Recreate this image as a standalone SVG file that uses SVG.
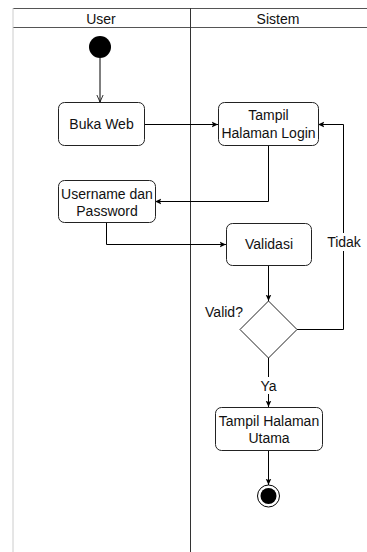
<svg xmlns="http://www.w3.org/2000/svg" width="367" height="552" viewBox="0 0 367 552">
<defs>
<style>
text{font-family:"Liberation Sans",Arial,sans-serif;font-size:14px;fill:#111;text-anchor:middle}
.act{fill:#fff;stroke:#222;stroke-width:1}
.ln{fill:none;stroke:#000;stroke-width:1}
</style>
<marker id="ah" viewBox="0 0 10 10" refX="9" refY="5" markerWidth="7" markerHeight="7" orient="auto" markerUnits="userSpaceOnUse">
<path d="M0,1 L9,5 L0,9 L2,5 Z" fill="#000"/>
</marker>
<marker id="oa" viewBox="0 0 10 10" refX="9" refY="5" markerWidth="8" markerHeight="8" orient="auto" markerUnits="userSpaceOnUse">
<path d="M0,1 L9,5 L0,9" fill="none" stroke="#000"/>
</marker>
</defs>
<rect width="367" height="552" fill="#fff"/>
<g id="swimlanes">
<line x1="13" y1="8.5" x2="367" y2="8.5" stroke="#555"/>
<line x1="13" y1="27.5" x2="367" y2="27.5" stroke="#555"/>
<line x1="13" y1="8" x2="13" y2="552" stroke="#ccc"/>
<line x1="190.5" y1="8" x2="190.5" y2="552" stroke="#333"/>
<text x="101" y="24">User</text>
<text x="278" y="24">Sistem</text>
</g>
<g id="connectors">
<line class="ln" x1="100" y1="58" x2="100" y2="102" marker-end="url(#oa)"/>
<line class="ln" x1="144" y1="124.5" x2="218" y2="124.5" marker-end="url(#ah)"/>
<polyline class="ln" points="268.5,145 268.5,201.5 155,201.5" stroke="#999" marker-end="url(#ah)"/>
<polyline class="ln" points="106.5,222 106.5,244.5 226,244.5" marker-end="url(#ah)"/>
<line class="ln" x1="268.5" y1="265" x2="268.5" y2="301" marker-end="url(#ah)"/>
<polyline class="ln" points="297,329.5 343.5,329.5 343.5,124.5 318,124.5" marker-end="url(#ah)"/>
<line class="ln" x1="268.5" y1="358" x2="268.5" y2="407" marker-end="url(#ah)"/>
<line class="ln" x1="268.5" y1="450" x2="268.5" y2="485" marker-end="url(#ah)"/>
<rect x="326" y="233" width="37" height="18" fill="#fff"/>
<text x="344" y="247">Tidak</text>
<rect x="259" y="377" width="19" height="17" fill="#fff"/>
<text x="268.5" y="391">Ya</text>
</g>
<g id="start"><circle cx="100" cy="47" r="11" fill="#000"/></g>
<g id="buka-web">
<rect class="act" x="58.5" y="102.5" width="86" height="43" rx="6"/>
<text x="101.5" y="129">Buka Web</text>
</g>
<g id="tampil-login">
<rect class="act" x="218.5" y="102.5" width="100" height="43" rx="6"/>
<text x="268.5" y="120">Tampil</text>
<text x="268.5" y="138">Halaman Login</text>
</g>
<g id="username">
<rect class="act" x="58.5" y="180.5" width="97" height="42" rx="6"/>
<text x="107" y="199">Username dan</text>
<text x="107" y="216">Password</text>
</g>
<g id="validasi">
<rect class="act" x="226.5" y="223.5" width="85" height="42" rx="6"/>
<text x="269" y="249">Validasi</text>
</g>
<g id="decision">
<polygon class="act" points="268.5,301 297,329.5 268.5,358 240,329.5"/>
<text x="224" y="317">Valid?</text>
</g>
<g id="tampil-utama">
<rect class="act" x="215.5" y="407.5" width="107" height="43" rx="6"/>
<text x="269" y="426">Tampil Halaman</text>
<text x="269" y="443">Utama</text>
</g>
<g id="end">
<circle cx="268.5" cy="496" r="11" fill="#fff" stroke="#000"/>
<circle cx="268.5" cy="496" r="8" fill="#000"/>
</g>
</svg>
